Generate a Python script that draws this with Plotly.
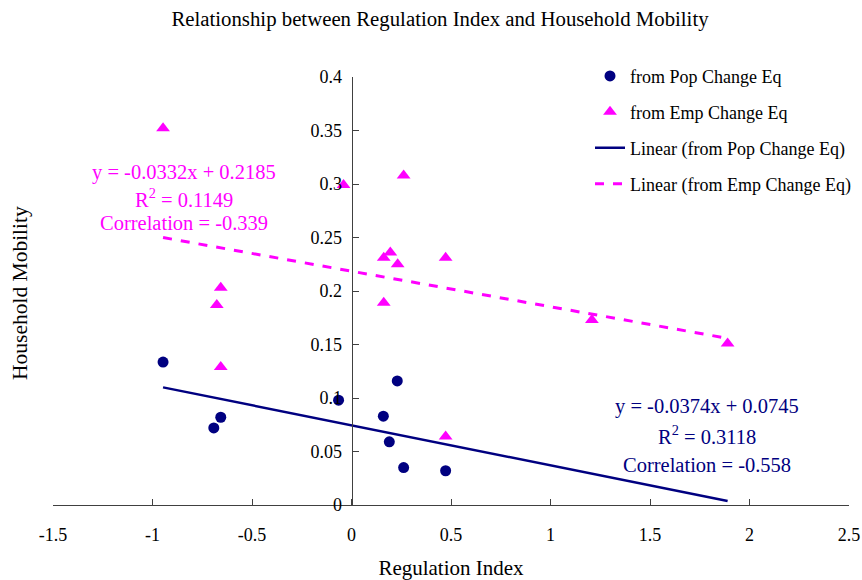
import plotly.graph_objects as go

# Regulation index vs. household mobility estimates
pop_x = [-0.947, -0.692, -0.657, -0.065, 0.160, 0.190, 0.230, 0.262, 0.473]
pop_y = [0.1336, 0.072, 0.082, 0.098, 0.083, 0.059, 0.116, 0.035, 0.032]

emp_x = [-0.947, -0.677, -0.657, -0.657, -0.040, 0.162, 0.195, 0.232, 0.262,
         0.162, 0.473, 0.473, 1.208, 1.890]
emp_y = [0.352, 0.187, 0.203, 0.129, 0.299, 0.231, 0.236, 0.225, 0.308,
         0.189, 0.231, 0.064, 0.173, 0.151]

# Linear trend coefficients (slope, intercept), fit statistics and fitted x span
pop_slope, pop_icpt, pop_r2, pop_corr = -0.0374, 0.0745, 0.3118, -0.558
emp_slope, emp_icpt, emp_r2, emp_corr = -0.0332, 0.2185, 0.1149, -0.339
trend_x = [-0.947, 1.890]

x_ticks = [-1.5, -1, -0.5, 0, 0.5, 1, 1.5, 2, 2.5]
x_tick_text = ["-1.5", "-1", "-0.5", "0", "0.5", "1", "1.5", "2", "2.5"]
y_ticks = [0, 0.05, 0.1, 0.15, 0.2, 0.25, 0.3, 0.35, 0.4]
y_tick_text = ["0", "0.05", "0.1", "0.15", "0.2", "0.25", "0.3", "0.35", "0.4"]

NAVY = "#000080"
MAGENTA = "#FF00FF"
FONT = "Liberation Serif"

W, H = 862, 580
ML, MR, MT, MB = 53, 13, 77, 75
PW, PH = W - ML - MR, H - MT - MB

fig = go.Figure()
fig.add_trace(go.Scatter(x=pop_x, y=pop_y, mode="markers", name="from Pop Change Eq",
                         legendgroup="a",
                         marker=dict(symbol="circle", size=11, color=NAVY)))
fig.add_trace(go.Scatter(x=emp_x, y=emp_y, mode="markers", name="from Emp Change Eq",
                         legendgroup="b",
                         marker=dict(symbol="triangle-up", size=12, color=MAGENTA)))
fig.add_trace(go.Scatter(x=trend_x, y=[pop_slope * v + pop_icpt for v in trend_x],
                         mode="lines", name="Linear (from Pop Change Eq)",
                         legendgroup="c",
                         line=dict(color=NAVY, width=2.5)))
fig.add_trace(go.Scatter(x=trend_x, y=[emp_slope * v + emp_icpt for v in trend_x],
                         mode="lines", name="Linear (from Emp Change Eq)",
                         legendgroup="d",
                         line=dict(color=MAGENTA, width=3, dash="dash")))


def eq_lines(slope, icpt, r2, corr):
    return [f"y = {slope}x + {icpt}",
            f"R<sup>2</sup> = {r2}",
            f"Correlation = {corr}"]


# regression labels, one annotation per line (data coordinates)
emp_label_x, emp_label_y = -0.842, [0.3112, 0.2869, 0.2636]
pop_label_x, pop_label_y = 1.785, [0.0925, 0.0654, 0.0374]
for txt, yy in zip(eq_lines(emp_slope, emp_icpt, emp_r2, emp_corr), emp_label_y):
    fig.add_annotation(x=emp_label_x, y=yy, xref="x", yref="y", showarrow=False,
                       text=txt, font=dict(family=FONT, size=20.5, color=MAGENTA))
for txt, yy in zip(eq_lines(pop_slope, pop_icpt, pop_r2, pop_corr), pop_label_y):
    fig.add_annotation(x=pop_label_x, y=yy, xref="x", yref="y", showarrow=False,
                       text=txt, font=dict(family=FONT, size=20.5, color=NAVY))

# y axis title placed at the far left, since the axis itself sits at x = 0
fig.add_annotation(x=(20 - ML) / PW, y=(H - MB - 293) / PH, xref="paper", yref="paper",
                   xanchor="center", yanchor="middle",
                   text="Household Mobility", showarrow=False, textangle=-90,
                   font=dict(family=FONT, size=21.5, color="black"))

fig.update_layout(
    width=W, height=H,
    margin=dict(l=ML, r=MR, t=MT, b=MB, autoexpand=False),
    paper_bgcolor="white", plot_bgcolor="white",
    font=dict(family=FONT, size=18, color="black"),
    title=dict(text="Relationship between Regulation Index and Household Mobility",
               x=440 / W, xanchor="center", y=1 - 19 / H, yanchor="middle",
               font=dict(family=FONT, size=20.8, color="black")),
    showlegend=True,
    legend=dict(x=(590 - ML) / PW, y=1.045, xanchor="left", yanchor="top",
                bgcolor="rgba(0,0,0,0)", tracegroupgap=9.5,
                font=dict(family=FONT, size=18, color="black")),
    xaxis=dict(range=[-1.5, 2.5], tickvals=x_ticks, ticktext=x_tick_text,
               automargin=False,
               showgrid=False, zeroline=False, showline=True, linecolor="#404040",
               linewidth=1, ticks="inside", ticklen=6, tickcolor="#404040",
               ticklabelstandoff=13,
               title=dict(text="Regulation Index", font=dict(family=FONT, size=21),
                          standoff=16)),
    yaxis=dict(range=[0, 0.4], tickvals=y_ticks, ticktext=y_tick_text,
               anchor="free", position=1.5 / 4, automargin=False,
               ticklabelstandoff=6,
               showgrid=False, zeroline=False, showline=True, linecolor="#404040",
               linewidth=1, ticks="inside", ticklen=6, tickcolor="#404040"),
)

fig.write_html("out.html")
